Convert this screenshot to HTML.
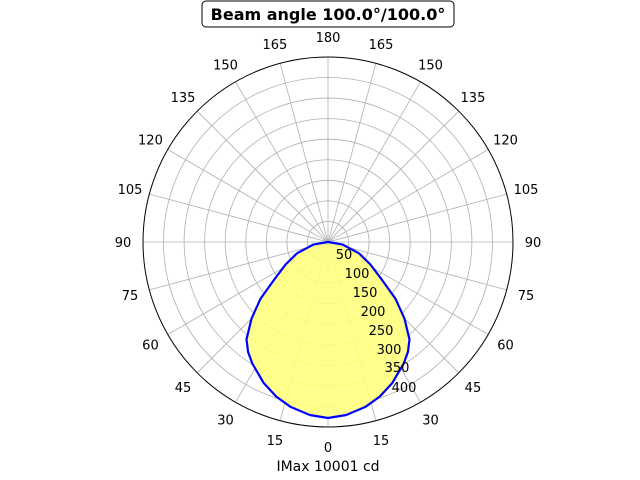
<!DOCTYPE html>
<html><head><meta charset="utf-8"><style>body{margin:0;background:#fff}svg{display:block}text{font-family:"DejaVu Sans","Liberation Sans",sans-serif}</style></head>
<body>
<svg width="640" height="480" viewBox="0 0 640 480" xmlns="http://www.w3.org/2000/svg">
<g stroke="#b0b0b0" stroke-width="0.8" fill="none">
<circle cx="328" cy="242" r="20.56"/><circle cx="328" cy="242" r="41.12"/><circle cx="328" cy="242" r="61.68"/><circle cx="328" cy="242" r="82.24"/>
<circle cx="328" cy="242" r="102.8"/><circle cx="328" cy="242" r="123.36"/><circle cx="328" cy="242" r="143.92"/><circle cx="328" cy="242" r="164.48"/>
<line x1="328" y1="427" x2="328" y2="57"/>
<line x1="375.88" y1="420.69" x2="280.12" y2="63.31"/>
<line x1="420.5" y1="402.21" x2="235.5" y2="81.79"/>
<line x1="458.81" y1="372.81" x2="197.19" y2="111.19"/>
<line x1="488.21" y1="334.5" x2="167.79" y2="149.5"/>
<line x1="506.69" y1="289.88" x2="149.31" y2="194.12"/>
<line x1="513" y1="242" x2="143" y2="242"/>
<line x1="506.69" y1="194.12" x2="149.31" y2="289.88"/>
<line x1="488.21" y1="149.5" x2="167.79" y2="334.5"/>
<line x1="458.81" y1="111.19" x2="197.19" y2="372.81"/>
<line x1="420.5" y1="81.79" x2="235.5" y2="402.21"/>
<line x1="375.88" y1="63.31" x2="280.12" y2="420.69"/>
</g>
<polygon fill="#ffff80" fill-opacity="0.9" stroke="#0000ff" stroke-width="2.2" stroke-linejoin="round" points="328,242 313.2,244.6 297,253.3 285.6,264.5 274,279.9 260.6,298.6 251.6,318.4 246.5,339.4 248.1,352 252.2,363.3 263.7,383 276.3,396.6 290.3,406.7 309.8,415 328,418 346.2,415 365.7,406.7 379.7,396.6 392.3,383 403.8,363.3 407.9,352 409.5,339.4 404.4,318.4 395.4,298.6 382,279.9 370.4,264.5 359,253.3 342.8,244.6"/>
<circle cx="328" cy="242" r="185" fill="none" stroke="#000" stroke-width="1"/>
<g font-size="13" text-anchor="middle" fill="#000">
<text x="328" y="452">0</text>
<text x="381.06" y="445">15</text><text x="274.94" y="445">15</text>
<text x="430.5" y="424.5">30</text><text x="225.5" y="424.5">30</text>
<text x="472.96" y="392">45</text><text x="183.04" y="392">45</text>
<text x="505.54" y="349.5">60</text><text x="150.46" y="349.5">60</text>
<text x="526.01" y="300">75</text><text x="129.99" y="300">75</text>
<text x="533" y="247">90</text><text x="123" y="247">90</text>
<text x="526.01" y="194">105</text><text x="129.99" y="194">105</text>
<text x="505.54" y="144.5">120</text><text x="150.46" y="144.5">120</text>
<text x="472.96" y="102">135</text><text x="183.04" y="102">135</text>
<text x="430.5" y="69.5">150</text><text x="225.5" y="69.5">150</text>
<text x="381.06" y="49">165</text><text x="274.94" y="49">165</text>
<text x="328" y="42">180</text>
</g>
<g font-size="13" text-anchor="middle" fill="#000">
<text x="344" y="259">50</text><text x="357" y="278">100</text><text x="365" y="297">150</text>
<text x="373" y="316">200</text><text x="381" y="335">250</text><text x="389" y="354">300</text>
<text x="397" y="372">350</text><text x="404" y="392">400</text>
</g>
<rect x="202" y="1" width="252" height="26" rx="4" fill="#fff" stroke="#000" stroke-width="1"/>
<text x="328" y="20" font-size="16" font-weight="bold" text-anchor="middle">Beam angle 100.0°/100.0°</text>
<text x="328" y="471" font-size="14" text-anchor="middle">IMax 10001 cd</text>
</svg>
</body></html>
